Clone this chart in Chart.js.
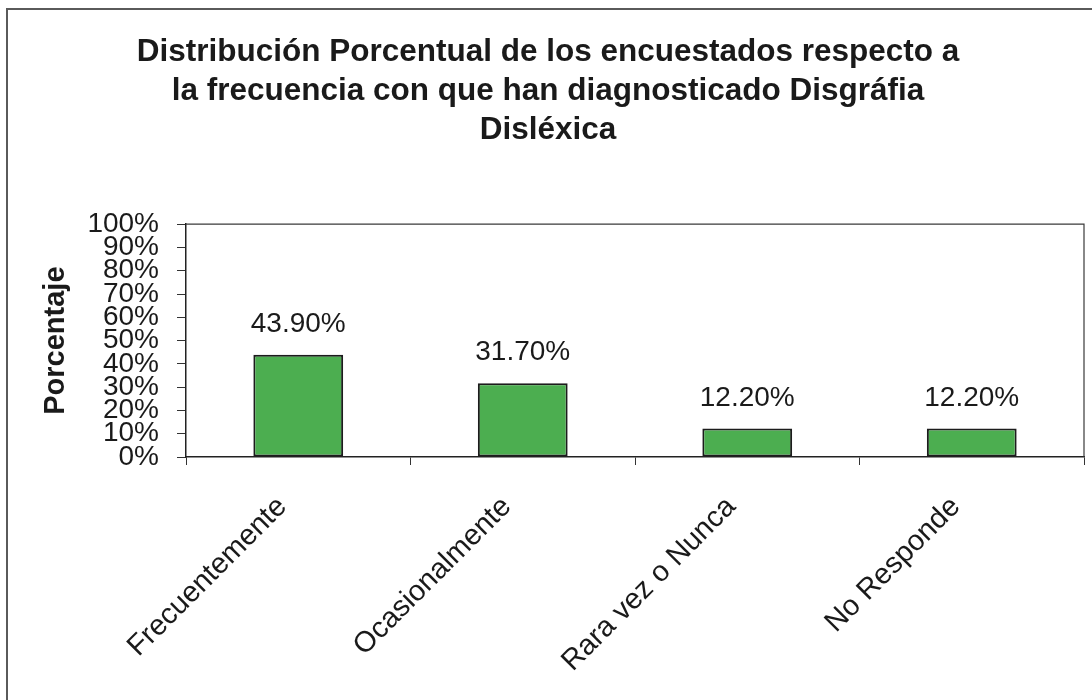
<!DOCTYPE html>
<html>
<head>
<meta charset="utf-8">
<script src="https://cdn.jsdelivr.net/npm/chart.js@4.4.1/dist/chart.umd.min.js"></script>
<style>
  html, body { margin: 0; padding: 0; background: #ffffff; }
  #wrap { width: 1092px; height: 700px; position: relative; }
</style>
</head>
<body>
<div id="wrap"><canvas id="c" width="1092" height="700"></canvas></div>
<script>
const categories = ['Frecuentemente', 'Ocasionalmente', 'Rara vez o Nunca', 'No Responde'];
const percentages = [43.9, 31.7, 12.2, 12.2];
const yTickValues = [0, 10, 20, 30, 40, 50, 60, 70, 80, 90, 100];
const titleLines = [
  'Distribución Porcentual de los encuestados respecto a',
  'la frecuencia con que han diagnosticado Disgráfia',
  'Disléxica'
];
const yAxisTitle = 'Porcentaje';

const FONT = '"Liberation Sans", Arial, sans-serif';

const framePlugin = {
  id: 'frame',
  beforeDraw(chart) {
    const ctx = chart.ctx;
    ctx.save();
    ctx.fillStyle = '#ffffff';
    ctx.fillRect(0, 0, chart.width, chart.height);
    ctx.strokeStyle = '#5a5a5a';
    ctx.lineWidth = 2;
    ctx.beginPath();
    ctx.moveTo(7, chart.height);
    ctx.lineTo(7, 9);
    ctx.lineTo(chart.width, 9);
    ctx.stroke();
    ctx.restore();
  },
  afterDraw(chart) {
    const a = chart.chartArea;
    const ctx = chart.ctx;
    ctx.save();
    ctx.strokeStyle = '#3a3a3a';
    ctx.lineWidth = 1.2;
    ctx.beginPath();
    ctx.moveTo(a.left, a.top);
    ctx.lineTo(a.right, a.top);
    ctx.lineTo(a.right, a.bottom);
    ctx.stroke();
    ctx.restore();
  }
};

const valueLabels = {
  id: 'valueLabels',
  afterDatasetsDraw(chart) {
    const ctx = chart.ctx;
    const meta = chart.getDatasetMeta(0);
    ctx.save();
    ctx.font = '28px ' + FONT;
    ctx.fillStyle = '#1a1a1a';
    ctx.textAlign = 'center';
    ctx.textBaseline = 'alphabetic';
    meta.data.forEach((bar, i) => {
      const v = chart.data.datasets[0].data[i];
      ctx.fillText(v.toFixed(2) + '%', bar.x, bar.y - 23);
    });
    ctx.restore();
  }
};

new Chart(document.getElementById('c'), {
  type: 'bar',
  data: {
    labels: categories,
    datasets: [{
      data: percentages,
      backgroundColor: '#4cae50',
      borderColor: '#1c1c1c',
      borderWidth: 2,
      borderSkipped: false,
      categoryPercentage: 1.0,
      barPercentage: 0.4
    }]
  },
  options: {
    responsive: false,
    animation: false,
    devicePixelRatio: 1,
    layout: { padding: { left: 12, right: 8, top: 0, bottom: 0 } },
    plugins: {
      legend: { display: false },
      tooltip: { enabled: false },
      title: {
        display: true,
        text: titleLines,
        color: '#1a1a1a',
        font: { family: FONT, size: 31.5, weight: 'bold', lineHeight: 1.24 },
        padding: { top: 33, bottom: 74 }
      }
    },
    scales: {
      x: {
        grid: {
          display: true,
          drawOnChartArea: false,
          drawTicks: true,
          tickLength: 8,
          color: '#333333',
          offset: true
        },
        border: { display: true, color: '#222222', width: 1.5 },
        ticks: {
          color: '#1a1a1a',
          font: { family: FONT, size: 29 },
          maxRotation: 45,
          minRotation: 45,
          padding: 25,
          labelOffset: -16,
          autoSkip: false
        },
        afterFit(scale) { scale.height = 243; }
      },
      y: {
        min: 0,
        max: 100,
        afterBuildTicks(scale) {
          scale.ticks = yTickValues.map(v => ({ value: v }));
        },
        grid: {
          display: true,
          drawOnChartArea: false,
          drawTicks: true,
          tickLength: 9,
          color: '#333333'
        },
        border: { display: true, color: '#222222', width: 1.5 },
        ticks: {
          color: '#1a1a1a',
          font: { family: FONT, size: 28, lineHeight: 1.0 },
          padding: 18,
          autoSkip: false,
          callback: (v) => v + '%'
        },
        title: {
          display: true,
          text: yAxisTitle,
          color: '#1a1a1a',
          font: { family: FONT, size: 29, weight: 'bold', lineHeight: 1.2 },
          padding: { top: 27, bottom: 0 }
        },
        afterFit(scale) { scale.width = 174; }
      }
    }
  },
  plugins: [framePlugin, valueLabels]
});
</script>
</body>
</html>
